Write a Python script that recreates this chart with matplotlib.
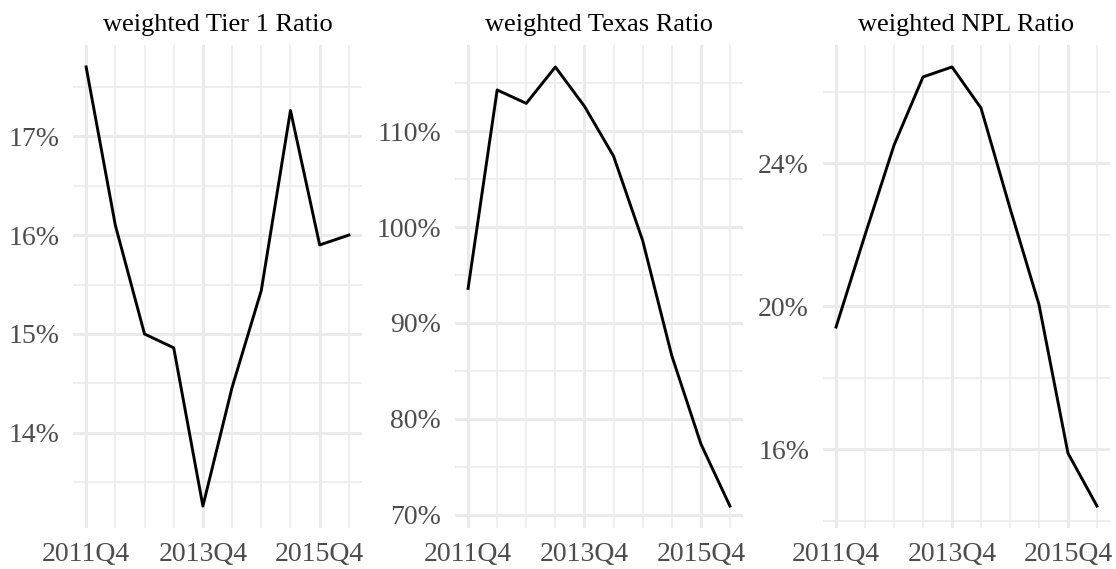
import matplotlib
matplotlib.use("Agg")
import matplotlib.pyplot as plt
import numpy as np
from matplotlib.ticker import FuncFormatter

# data (percent), semiannual from 2011Q4 to 2016Q2
periods = ["2011Q4", "2012Q2", "2012Q4", "2013Q2", "2013Q4",
           "2014Q2", "2014Q4", "2015Q2", "2015Q4", "2016Q2"]
tier1 = [17.70, 16.10, 15.00, 14.86, 13.26, 14.46, 15.44, 17.26, 15.90, 16.00]
texas = [93.6, 114.3, 112.9, 116.7, 112.6, 107.4, 98.6, 86.6, 77.4, 70.9]
npl = [19.42, 22.0, 24.51, 26.42, 26.70, 25.55, 22.75, 20.05, 15.89, 14.41]

titles = ["weighted Tier 1 Ratio", "weighted Texas Ratio", "weighted NPL Ratio"]
series = [tier1, texas, npl]
major_y = [[14, 15, 16, 17], [70, 80, 90, 100, 110], [16, 20, 24]]
minor_y = [[13.5, 14.5, 15.5, 16.5, 17.5], [75, 85, 95, 105, 115], [14, 18, 22, 26]]
labeled = [0, 4, 8]

plt.rcParams['font.family'] = ['Liberation Serif', 'DejaVu Serif']

fig = plt.figure(figsize=(11.16, 5.69), dpi=100)
W, H = 1116, 569
lefts = [73, 455, 823]
widths = [289, 288, 287]
top, bottom = 45, 528
grid_col = '#EBEBEB'

for i in range(3):
    ax = fig.add_axes([lefts[i] / W, 1 - bottom / H, widths[i] / W, (bottom - top) / H])
    x = np.arange(len(periods))
    ax.plot(x, series[i], color='black', lw=2.1, zorder=3)
    ax.margins(x=0.05, y=0.05)
    ax.autoscale_view()
    xl = ax.get_xlim()
    yl = ax.get_ylim()
    # gridlines
    for v in minor_y[i]:
        ax.axhline(v, color=grid_col, lw=1.1, zorder=1)
    for v in major_y[i]:
        ax.axhline(v, color=grid_col, lw=2.2, zorder=1)
    for k in x:
        ax.axvline(k, color=grid_col, lw=2.2 if k in labeled else 1.1, zorder=1)
    ax.set_xlim(xl)
    ax.set_ylim(yl)
    ax.set_xticks(labeled)
    ax.set_xticklabels([periods[k] for k in labeled])
    ax.set_yticks(major_y[i])
    ax.yaxis.set_major_formatter(FuncFormatter(lambda v, p: '%d%%' % round(v)))
    ax.tick_params(length=0, labelsize=20, colors='#4D4D4D')
    ax.tick_params(axis='y', pad=10)
    ax.tick_params(axis='x', pad=10)
    for s in ax.spines.values():
        s.set_visible(False)
    ax.set_title(titles[i], fontsize=19, color='black', pad=10)

fig.savefig("out.png", dpi=100, facecolor='white')
